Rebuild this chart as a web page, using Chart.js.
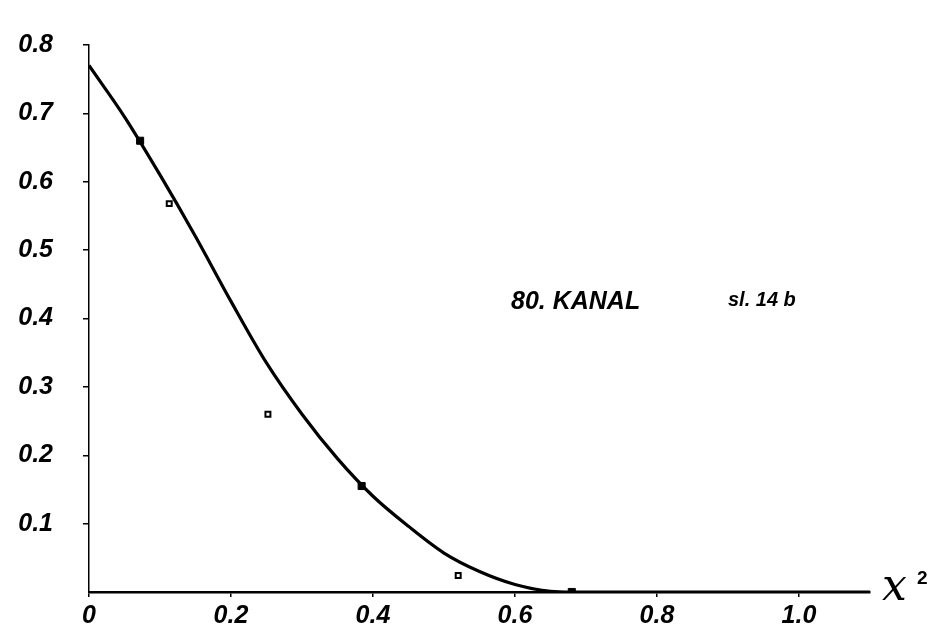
<!DOCTYPE html>
<html>
<head>
<meta charset="utf-8">
<script src="https://cdn.jsdelivr.net/npm/chart.js@4/dist/chart.umd.min.js"></script>
<style>
  html, body { margin: 0; padding: 0; background: #fff; }
  #wrap { width: 946px; height: 637px; }
</style>
</head>
<body>
<div id="wrap"><canvas id="chart" width="946" height="637"></canvas></div>
<script>
// faired curve, x^2 vs value
const curveX = [0, 0.05, 0.1, 0.15, 0.2, 0.25, 0.3, 0.35, 0.4, 0.45, 0.5, 0.55, 0.6, 0.65, 0.68, 1.1];
const curveY = [0.77, 0.695, 0.61, 0.52, 0.425, 0.335, 0.26, 0.195, 0.14, 0.096, 0.057, 0.03, 0.011, 0.001, 0, 0];

// measured points
const solidX = [0.072, 0.384, 0.68];
const solidY = [0.66, 0.155, 0];
const openX = [0.113, 0.252, 0.52];
const openY = [0.568, 0.26, 0.024];

const xTicks = [0, 0.2, 0.4, 0.6, 0.8, 1.0];
const xTickLabels = ['0', '0.2', '0.4', '0.6', '0.8', '1.0'];
const yTicks = [0.1, 0.2, 0.3, 0.4, 0.5, 0.6, 0.7, 0.8];
const yTickLabels = ['0.1', '0.2', '0.3', '0.4', '0.5', '0.6', '0.7', '0.8'];

const title = '80. KANAL';
const sheet = 'sl. 14 b';

const pts = (xs, ys) => xs.map((x, i) => ({ x: x, y: ys[i] }));
const lblFont = { family: '"Liberation Sans", Arial, sans-serif', size: 25, style: 'italic', weight: 'bold' };

// text labels on the plot
const notes = {
  id: 'notes',
  afterDraw(chart) {
    const c = chart.ctx;
    c.save();
    c.fillStyle = '#000';
    c.textBaseline = 'middle';
    c.font = 'italic bold 25px "Liberation Sans", Arial, sans-serif';
    c.fillText(title, 511, 302);
    c.font = 'italic bold 20px "Liberation Sans", Arial, sans-serif';
    c.fillText(sheet, 728, 300);
    c.textBaseline = 'alphabetic';
    c.font = 'italic 44px "DejaVu Serif", serif';
    c.fillText('x', 882, 600);
    c.font = 'bold 19px "Liberation Sans", Arial, sans-serif';
    c.fillText('2', 917, 584);
    c.restore();
  }
};

new Chart(document.getElementById('chart'), {
  type: 'scatter',
  data: {
    datasets: [
      {
        data: pts(curveX, curveY),
        showLine: true,
        borderColor: '#000',
        borderWidth: 3.2,
        cubicInterpolationMode: 'monotone',
        pointRadius: 0,
        order: 2
      },
      {
        data: pts(solidX, solidY),
        pointStyle: 'rect',
        pointRadius: 5,
        backgroundColor: '#000',
        borderColor: '#000',
        order: 1
      },
      {
        data: pts(openX, openY),
        pointStyle: 'rect',
        pointRadius: 3.5,
        backgroundColor: '#fff',
        borderColor: '#000',
        borderWidth: 2,
        order: 1
      }
    ]
  },
  options: {
    responsive: false,
    animation: false,
    layout: { padding: { top: 28, right: 76, left: 0, bottom: 0 } },
    plugins: { legend: { display: false }, tooltip: { enabled: false } },
    scales: {
      x: {
        type: 'linear',
        min: 0,
        max: 1.1,
        afterBuildTicks: s => { s.ticks = xTicks.map(v => ({ value: v })); },
        afterFit: s => { s.height = 41; },
        border: { color: '#000', width: 2.5 },
        grid: { drawOnChartArea: false, drawTicks: true, tickLength: 5, color: '#000', lineWidth: 1.5 },
        ticks: {
          color: '#000',
          font: lblFont,
          padding: 4,
          maxRotation: 0,
          callback: (v) => xTickLabels[xTicks.indexOf(v)] ?? ''
        }
      },
      y: {
        type: 'linear',
        min: 0,
        max: 0.8,
        afterBuildTicks: s => { s.ticks = yTicks.map(v => ({ value: v })); },
        afterFit: s => { s.width = 89; },
        border: { color: '#000', width: 1.5, dash: [14, 4, 2, 4] },
        grid: { drawOnChartArea: false, drawTicks: true, tickLength: 6, color: '#000', lineWidth: 1.5 },
        ticks: {
          color: '#000',
          font: lblFont,
          padding: 30,
          callback: (v) => yTickLabels[yTicks.indexOf(v)] ?? ''
        }
      }
    }
  },
  plugins: [notes]
});
</script>
</body>
</html>
